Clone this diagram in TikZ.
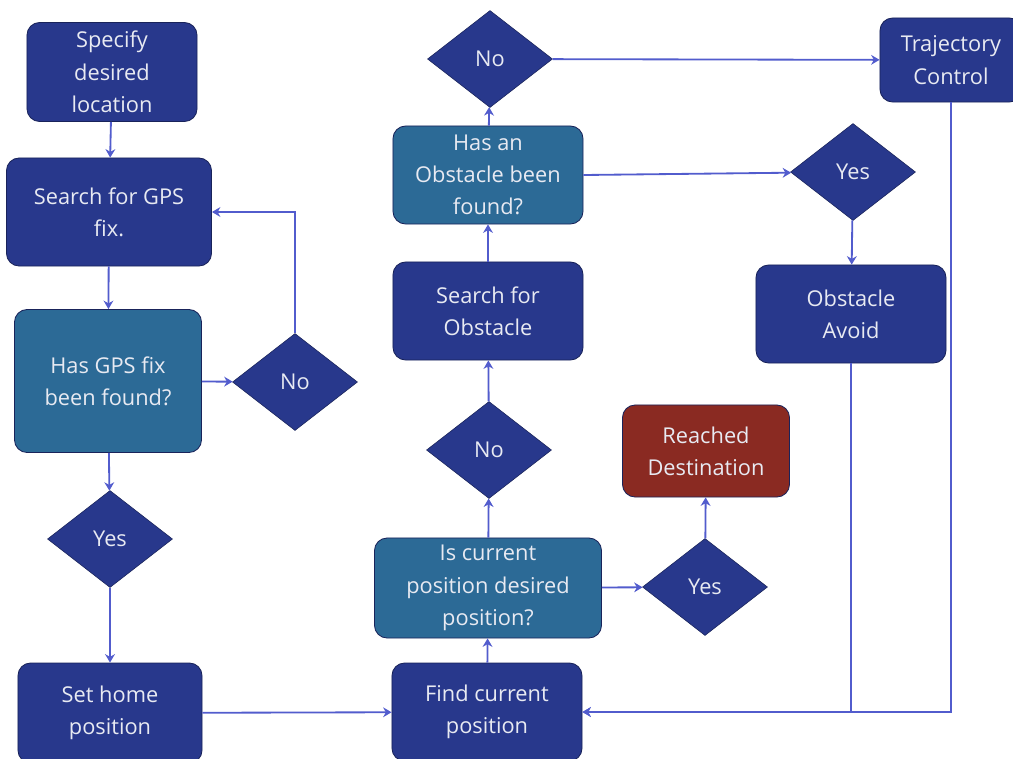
\documentclass[tikz,border=0pt]{standalone}
\usepackage{fontspec}
\setmainfont{Open Sans}
\usetikzlibrary{shapes.geometric,arrows.meta}
\definecolor{boxdark}{RGB}{40,56,140}
\definecolor{boxteal}{RGB}{44,106,150}
\definecolor{boxred}{RGB}{138,42,34}
\definecolor{edgedark}{RGB}{25,35,90}
\definecolor{linkblue}{RGB}{82,92,205}
\definecolor{txt}{RGB}{232,234,242}
\def\px{0.7113pt}
\tikzset{
  basebox/.style={rounded corners=9pt, draw=edgedark, line width=0.6pt, text=txt, align=center,
    font=\fontsize{15.5pt}{23pt}\selectfont, inner sep=0pt},
  darkbox/.style={basebox, fill=boxdark},
  tealbox/.style={basebox, fill=boxteal},
  redbox/.style={basebox, fill=boxred},
  choice/.style={diamond, fill=boxdark, draw=edgedark, line width=0.4pt, text=txt, inner sep=0pt,
    minimum width=125*\px, minimum height=97*\px, font=\fontsize{15.5pt}{23pt}\selectfont},
  link/.style={draw=linkblue, line width=1.3pt, -{Stealth[length=6pt,width=7pt]}},
  plainlink/.style={draw=linkblue, line width=1.3pt}
}
\begin{document}
\begin{tikzpicture}[x=0.025cm,y=-0.025cm]
\useasboundingbox (0,0) rectangle (1013,758);
% nodes
\node[darkbox, minimum width=170*\px, minimum height=99*\px] (spec) at (112,72) {Specify\\desired\\location};
\node[darkbox, minimum width=205*\px, minimum height=108*\px] (gps) at (109,212) {Search for GPS\\fix.};
\node[tealbox, minimum width=187*\px, minimum height=143*\px] (hasgps) at (108,381) {Has GPS fix\\been found?};
\node[choice] (noL) at (295,382) {No};
\node[choice] (yesL) at (110,539) {Yes};
\node[darkbox, minimum width=184*\px, minimum height=100*\px] (home) at (110,713) {Set home\\position};
\node[darkbox, minimum width=190*\px, minimum height=98*\px] (find) at (487,712) {Find current\\position};
\node[tealbox, minimum width=227*\px, minimum height=100*\px] (iscur) at (488,588) {Is current\\position desired\\position?};
\node[choice] (noM) at (489,450) {No};
\node[darkbox, minimum width=190*\px, minimum height=98*\px] (sobs) at (488,311) {Search for\\Obstacle};
\node[tealbox, minimum width=190*\px, minimum height=98*\px] (hasobs) at (488,175) {Has an\\Obstacle been\\found?};
\node[choice] (noT) at (490,59) {No};
\node[darkbox, minimum width=142*\px, minimum height=84*\px] (traj) at (951,60) {Trajectory\\Control};
\node[choice] (yesR) at (853,172) {Yes};
\node[darkbox, minimum width=190*\px, minimum height=98*\px] (avoid) at (851,314) {Obstacle\\Avoid};
\node[redbox, minimum width=167*\px, minimum height=92*\px] (reached) at (706,451) {Reached\\Destination};
\node[choice] (yesB) at (705,587) {Yes};
% connectors
\draw[link] (spec) -- (gps);
\draw[link] (gps) -- (hasgps);
\draw[link] (hasgps) -- (noL);
\draw[link] (noL.north) |- (gps.east);
\draw[link] (hasgps) -- (yesL);
\draw[link] (yesL) -- (home);
\draw[link] (home) -- (find);
\draw[link] (find) -- (iscur);
\draw[link] (iscur) -- (noM);
\draw[link] (noM) -- (sobs);
\draw[link] (sobs) -- (hasobs);
\draw[link] (hasobs) -- (noT);
\draw[link] (noT) -- (traj);
\draw[link] (hasobs.east) -- (yesR);
\draw[link] (yesR) -- (avoid);
\draw[link] (iscur) -- (yesB);
\draw[link] (yesB) -- (reached);
\draw[link] (avoid.south) |- (find.east);
\draw[link] (traj.south) |- (find.east);
\end{tikzpicture}
\end{document}
